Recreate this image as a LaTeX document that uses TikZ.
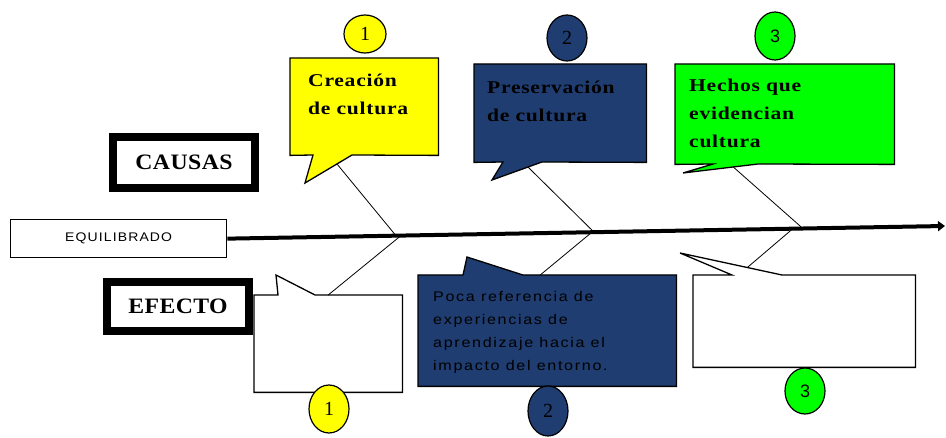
\documentclass[tikz,border=0pt]{standalone}
\usepackage{fontspec}
\setmainfont{Liberation Serif}
\setsansfont{Liberation Sans}
\newfontfamily\headserif[FakeStretch=1.2,LetterSpace=4]{Liberation Serif}
\newfontfamily\labelserif[FakeStretch=1.08,LetterSpace=2]{Liberation Serif}
\newfontfamily\widesans[FakeStretch=1.12,LetterSpace=9]{Liberation Sans}
\newfontfamily\bodysans[FakeStretch=1.15,LetterSpace=12]{Liberation Sans}
\usetikzlibrary{arrows.meta,calc,shapes.geometric}
\definecolor{cyel}{RGB}{255,255,0}
\definecolor{cblu}{RGB}{31,61,112}
\definecolor{cgrn}{RGB}{0,255,0}
\begin{document}
\begin{tikzpicture}[x=1pt,y=-1pt,
  callout/.style={draw=black,line width=1.3pt,line join=miter},
  holder/.style={inner sep=0pt,anchor=north west},
  headtxt/.style={anchor=base west,align=left,inner sep=0pt,font=\headserif\bfseries\fontsize{18}{28}\selectfont},
  bodytxt/.style={anchor=base west,align=left,inner sep=0pt,font=\bodysans\fontsize{14}{23.3}\selectfont},
  label/.style={draw=black,line width=8pt,inner sep=0pt,minimum width=142pt,font=\labelserif\bfseries\fontsize{22}{24}\selectfont},
  num/.style={draw=black,ellipse,line width=1.2pt,inner sep=0pt,minimum width=40pt,font=\fontsize{20}{22}\selectfont},
  bone/.style={draw=black,line width=0.8pt},
  spine/.style={draw=black,line width=4pt,-{Triangle[length=7pt,width=10pt]}}
]
\useasboundingbox (0,0) rectangle (946,438);

% ---------- labels ----------
\node[label,minimum height=51pt] (causas) at (184,162.5) {CAUSAS};
\node[label,minimum height=49pt] (efecto) at (178,306.5) {EFECTO};
\node[draw=black,line width=1.3pt,holder,minimum width=216pt,minimum height=38pt,
      font=\widesans\fontsize{12.5}{14}\selectfont] (eq) at (10,219) {EQUILIBRADO};

% ---------- top callouts ----------
\node[holder,minimum width=148pt,minimum height=97pt] (A) at (290,58) {};
\coordinate (A1) at (313,155);
\coordinate (A2) at (352,155);
\coordinate (At) at (305,183);
\draw[callout,fill=cyel] (A.north west) -- (A.north east) -- (A.south east) -- (A2) -- (At) -- (A1) -- (A.south west) -- cycle;
\node[headtxt] (Atx) at (308,115) {Creación\\de cultura};

\node[holder,minimum width=172pt,minimum height=98pt] (B) at (474,64) {};
\coordinate (B1) at (503,162);
\coordinate (B2) at (542,162);
\coordinate (Bt) at (492,180);
\draw[callout,fill=cblu] (B.north west) -- (B.north east) -- (B.south east) -- (B2) -- (Bt) -- (B1) -- (B.south west) -- cycle;
\node[headtxt] (Btx) at (487,122) {Preservación\\de cultura};

\node[holder,minimum width=219pt,minimum height=100pt] (C) at (675,64) {};
\coordinate (C1) at (713,164);
\coordinate (C2) at (758,164);
\coordinate (Ct) at (683,173);
\draw[callout,fill=cgrn] (C.north west) -- (C.north east) -- (C.south east) -- (C2) -- (Ct) -- (C1) -- (C.south west) -- cycle;
\node[headtxt] (Ctx) at (689,148) {Hechos que\\evidencian\\cultura};

% ---------- bottom callouts ----------
\node[holder,minimum width=148pt,minimum height=97pt] (D) at (254,295) {};
\coordinate (D1) at (278,295);
\coordinate (Dt) at (276,275);
\coordinate (D2) at (315,295);
\draw[callout,fill=white] (D.north west) -- (D1) -- (Dt) -- (D2) -- (D.north east) -- (D.south east) -- (D.south west) -- cycle;

\node[holder,minimum width=258pt,minimum height=111pt] (E) at (418,275) {};
\coordinate (E1) at (463,275);
\coordinate (Et) at (467,257);
\coordinate (E2) at (523,275);
\draw[callout,fill=cblu] (E.north west) -- (E1) -- (Et) -- (E2) -- (E.north east) -- (E.south east) -- (E.south west) -- cycle;
\node[bodytxt] (Etx) at (433,371) {Poca referencia de\\experiencias de\\aprendizaje hacia el\\impacto del entorno.};

\node[holder,minimum width=222pt,minimum height=92pt] (F) at (693,275) {};
\coordinate (F1) at (732,275);
\coordinate (Ft) at (680,253);
\coordinate (F2) at (782,275);
\draw[callout,fill=white] (F.north west) -- (F1) -- (Ft) -- (F2) -- (F.north east) -- (F.south east) -- (F.south west) -- cycle;

% ---------- spine ----------
\coordinate (tip) at (945,226);
\draw[spine] (eq.east) -- (tip);
\path (eq.east) -- (tip)
  coordinate[pos=0.235] (sAu) coordinate[pos=0.242] (sAd)
  coordinate[pos=0.511] (sBu) coordinate[pos=0.508] (sBd)
  coordinate[pos=0.802] (sCu) coordinate[pos=0.788] (sCd);

% ---------- bones ----------
\draw[bone] ($(At)!0.68!(A2)$) -- (sAu);
\draw[bone] (sAd) -- ($(D.north west)!0.5!(D.north east)$);
\draw[bone] ($(Bt)!0.72!(B2)$) -- (sBu);
\draw[bone] (sBd) -- ($(E.north west)!0.473!(E.north east)$);
\draw[bone] ($(Ct)!0.67!(C2)$) -- (sCu);
\draw[bone] (sCd) -- ($(Ft)!0.66!(F2)$);

% ---------- numbers ----------
\node[num,fill=cyel,minimum width=42pt,minimum height=38pt] (n1t) at (365,34) {1};
\node[num,fill=cblu,minimum height=46pt] (n2t) at (567,38) {2};
\node[num,fill=cgrn,minimum height=48pt,font=\sffamily\fontsize{18}{20}\selectfont] (n3t) at (775,36) {3};
\node[num,fill=cyel,minimum height=48pt] (n1b) at (329,409) {1};
\node[num,fill=cblu,minimum height=50pt] (n2b) at (548,411) {2};
\node[num,fill=cgrn,minimum height=46pt,font=\sffamily\fontsize{18}{20}\selectfont] (n3b) at (805,391) {3};
\end{tikzpicture}
\end{document}
